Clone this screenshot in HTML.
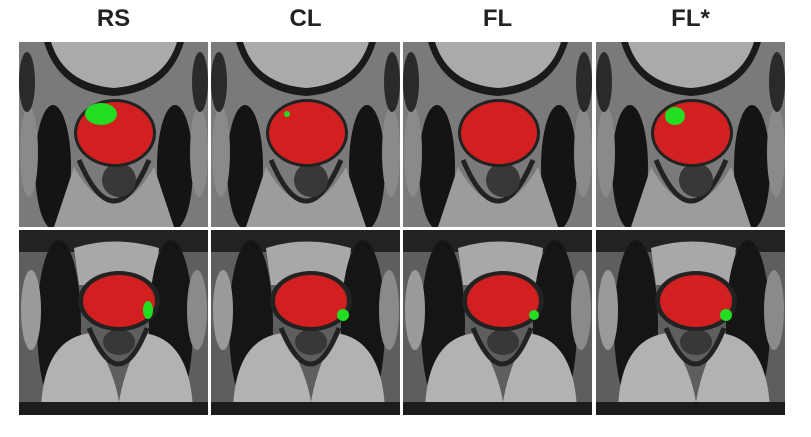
<!DOCTYPE html>
<html><head><meta charset="utf-8"><style>
body{margin:0;background:#fff;width:811px;height:437px;overflow:hidden;font-family:"Liberation Sans",sans-serif}
.t{position:absolute;top:5px;font-size:24px;font-weight:bold;color:#222;width:189px;text-align:center}
svg.p{position:absolute}
</style></head><body>
<div class="t" style="left:19px">RS</div>
<div class="t" style="left:211px">CL</div>
<div class="t" style="left:403px">FL</div>
<div class="t" style="left:596px">FL*</div>
<div id="root"></div>
<script>
const methods=['rs','cl','fl','fl-star'];
const colX=[19,211,403,596];
const rowY=[42,230];
// green lesion per [row][col]: [cx,cy,rx,ry] in panel coords, null = none
const greens=[[[82,72,16,11],[76,72,3,3],null,[79,74,10,9]],[[129,80,5,9],[132,85,6,6],[131,85,5,5],[130,85,6,6]]];
const bg1=`<rect width="189" height="185" fill="#7a7a7a"/>
<path d="M25 0 Q40 50 95 54 Q150 50 165 0Z" fill="#1a1a1a"/>
<path d="M32 0 Q45 42 95 46 Q145 42 158 0Z" fill="#aaaaaa"/>
<ellipse cx="34" cy="125" rx="18" ry="62" fill="#141414"/>
<ellipse cx="156" cy="125" rx="18" ry="62" fill="#141414"/>
<ellipse cx="10" cy="110" rx="9" ry="45" fill="#8a8a8a"/>
<ellipse cx="180" cy="110" rx="9" ry="45" fill="#8a8a8a"/>
<ellipse cx="8" cy="40" rx="8" ry="30" fill="#2a2a2a"/>
<ellipse cx="181" cy="40" rx="8" ry="30" fill="#2a2a2a"/>
<path d="M55 125 Q95 195 135 125 L155 185 L35 185Z" fill="#9c9c9c"/>
<path d="M60 118 Q95 200 130 118" fill="none" stroke="#222" stroke-width="5"/>
<circle cx="100" cy="138" r="17" fill="#383838"/>
<ellipse cx="96" cy="91" rx="41" ry="34" fill="#222"/>`;
const bg2=`<rect width="189" height="185" fill="#5e5e5e"/>
<rect width="189" height="22" fill="#222"/>
<path d="M55 18 Q95 5 140 18 L135 55 L60 55Z" fill="#a8a8a8"/>
<ellipse cx="40" cy="95" rx="22" ry="85" fill="#151515"/>
<ellipse cx="152" cy="95" rx="22" ry="85" fill="#151515"/>
<ellipse cx="12" cy="80" rx="10" ry="40" fill="#9a9a9a"/>
<ellipse cx="178" cy="80" rx="10" ry="40" fill="#8a8a8a"/>
<path d="M22 178 Q25 108 72 103 Q95 140 100 172 Q105 140 124 103 Q170 108 174 178Z" fill="#b2b2b2"/>
<path d="M70 98 Q100 170 128 98" fill="none" stroke="#222" stroke-width="5"/>
<ellipse cx="100" cy="112" rx="16" ry="13" fill="#383838"/>
<rect y="172" width="189" height="13" fill="#1c1c1c"/>
<ellipse cx="100" cy="71" rx="41" ry="30" fill="#222"/>`;
const reds=[[96,91,38,31],[100,71,36,26]];
const root=document.getElementById('root');
for(let r=0;r<2;r++)for(let c=0;c<4;c++){
  const s=document.createElementNS('http://www.w3.org/2000/svg','svg');
  s.setAttribute('class','p');s.setAttribute('width',189);s.setAttribute('height',185);
  s.style.left=colX[c]+'px';s.style.top=rowY[r]+'px';
  
  
  const rd=reds[r],g=greens[r][c];
  let h=(r?bg2:bg1)+`<ellipse cx="${rd[0]}" cy="${rd[1]}" rx="${rd[2]}" ry="${rd[3]}" fill="#dc2020" opacity="0.95"/>`;
  if(g)h+=`<ellipse cx="${g[0]}" cy="${g[1]}" rx="${g[2]}" ry="${g[3]}" fill="#22dd22"/>`;
  s.innerHTML=h;root.appendChild(s);
}
</script>
</body></html>
